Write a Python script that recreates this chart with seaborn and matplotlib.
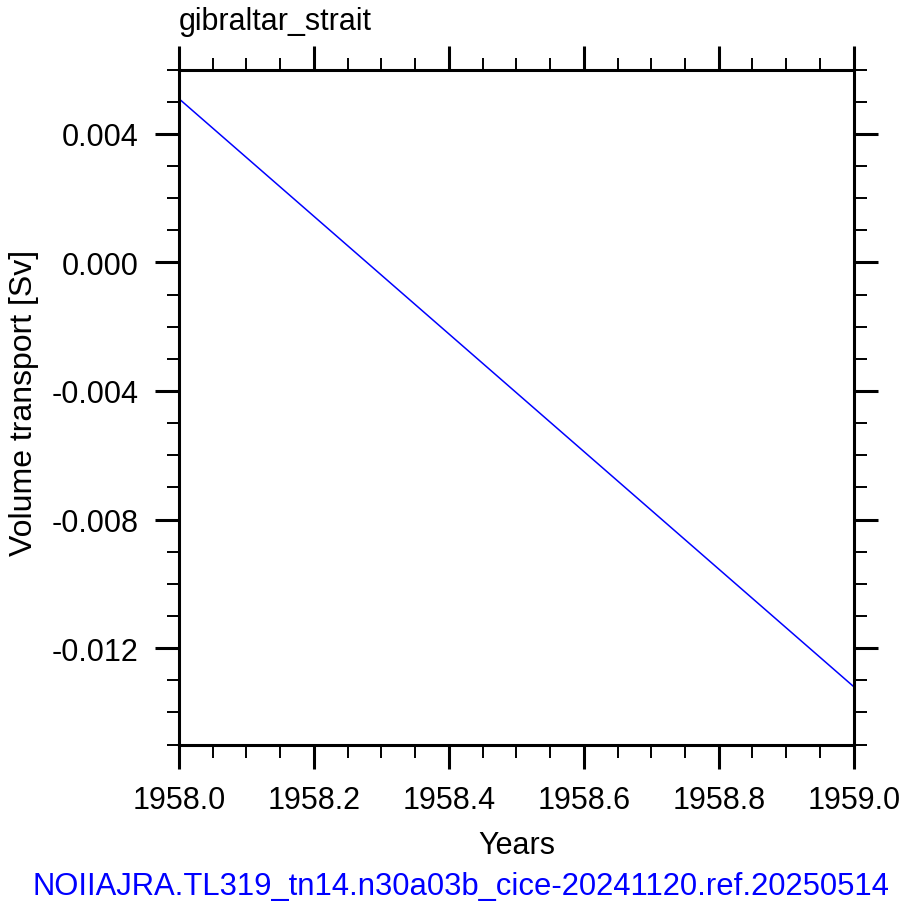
import numpy as np
import pandas as pd
import matplotlib
matplotlib.use("Agg")
import matplotlib.pyplot as plt
import seaborn as sns
from matplotlib.ticker import MultipleLocator, FormatStrFormatter

# --- Data ---
years = [1958.0, 1959.0]
transport = [0.00509, -0.01320]
section = "gibraltar_strait"
case_name = "NOIIAJRA.TL319_tn14.n30a03b_cice-20241120.ref.20250514"

df = pd.DataFrame({"Years": years, "Volume transport [Sv]": transport})

# --- Style ---
sns.set_style("ticks", {"axes.labelcolor": "black", "text.color": "black",
                        "xtick.color": "black", "ytick.color": "black",
                        "axes.edgecolor": "black"})
plt.rcParams["font.family"] = ["Liberation Sans", "DejaVu Sans"]

fig = plt.figure(figsize=(9.04, 9.12), dpi=100)
ax = fig.add_axes([179 / 904, 1 - 745.5 / 912, (853.7 - 179) / 904, (745.5 - 70.5) / 912])

sns.lineplot(data=df, x="Years", y="Volume transport [Sv]", ax=ax, color="blue", linewidth=1.1)

ax.set_xlim(1958.0, 1959.0)
ax.set_ylim(-0.015, 0.006)
ax.xaxis.set_major_locator(MultipleLocator(0.2))
ax.xaxis.set_minor_locator(MultipleLocator(0.05))
ax.yaxis.set_major_locator(MultipleLocator(0.004))
ax.yaxis.set_minor_locator(MultipleLocator(0.001))
ax.xaxis.set_major_formatter(FormatStrFormatter("%.1f"))
ax.yaxis.set_major_formatter(FormatStrFormatter("%.3f"))

for side in ax.spines.values():
    side.set_linewidth(2.2)
    side.set_color("black")
    side.set_visible(True)

ax.tick_params(which="major", direction="out", length=17, width=2.2, labelsize=22, pad=12,
               top=True, right=True, labeltop=False, labelright=False, colors="black")
ax.tick_params(which="minor", direction="out", length=9, width=1.4,
               top=True, right=True, colors="black")

ax.set_xlabel("Years", fontsize=22, labelpad=11, color="black")
ax.set_ylabel("Volume transport [Sv]", fontsize=23, labelpad=9.5, color="black")
ax.yaxis.label.set_y(0.508)
ax.set_title(section, loc="left", fontsize=22, pad=29, color="black")

fig.text(460.5 / 904, 1 - 887 / 912, case_name, color="blue", fontsize=22.3, ha="center", va="center")

fig.savefig("out.png", dpi=100)
